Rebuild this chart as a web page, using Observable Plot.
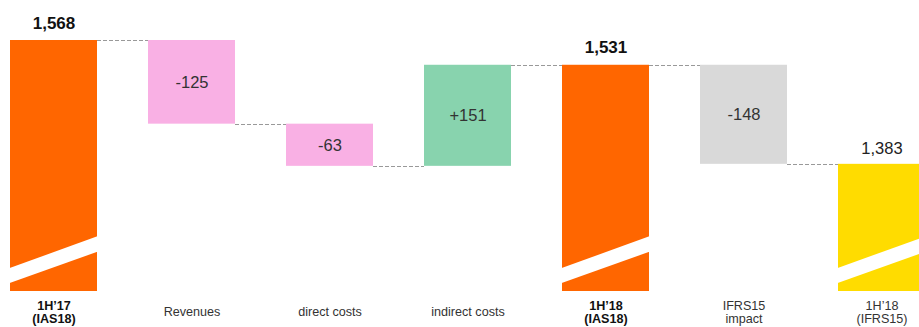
<!DOCTYPE html>
<html><head><meta charset="utf-8">
<script src="https://cdn.jsdelivr.net/npm/d3@7"></script>
<script src="https://cdn.jsdelivr.net/npm/@observablehq/plot@0.6"></script>
<style>html,body{margin:0;padding:0;background:#fff;overflow:hidden}</style>
</head><body><div id="chart"></div>
<script>
// ---- data ----
const categories = ["1H\u201917\n(IAS18)", "Revenues", "direct costs", "indirect costs", "1H\u201918\n(IAS18)", "IFRS15\nimpact", "1H\u201918\n(IFRS15)"];
const values = [1568, -125, -63, 151, 1531, -148, 1383];
const kinds = ["total", "delta", "delta", "delta", "total", "delta", "total"];
const valueLabels = ["1,568", "-125", "-63", "+151", "1,531", "-148", "1,383"];
const boldCategory = [true, false, false, false, true, false, false];
const boldValue = [true, false, false, false, true, false, false];
const colors = ["#FF6600", "#F9B0E4", "#F9B0E4", "#88D3AE", "#FF6600", "#D9D9D9", "#FFDC00"];
const axisBase = 1193;           // broken-axis baseline
const breakLeft = [1204.5, 1227]; // break band at bar's left edge
const breakRight = [1252, 1275];  // break band at bar's right edge

// ---- waterfall ----
let running = 0;
const rows = categories.map((c, i) => {
  let y1, y2;
  if (kinds[i] === "total") { y1 = axisBase; y2 = values[i]; }
  else { y1 = running; y2 = running + values[i]; }
  running = y2;
  return {cat: c, y1, y2, top: Math.max(y1, y2), mid: (y1 + y2) / 2, kind: kinds[i],
          label: valueLabels[i], bold: boldCategory[i], vbold: boldValue[i], color: colors[i], end: y2};
});
const totals = rows.filter(d => d.kind === "total");
const deltas = rows.filter(d => d.kind === "delta");
const font = "'Liberation Sans', Arial, Helvetica, sans-serif";

const chart = Plot.plot({
  width: 919, height: 327,
  marginTop: 40, marginBottom: 36, marginLeft: 0, marginRight: 0,
  style: {fontFamily: font, background: "#fff", color: "#222"},
  x: {domain: categories, range: [10, 927], paddingInner: 0.371, paddingOuter: 0, align: 0, axis: null},
  y: {domain: [axisBase, d3.max(rows, d => d.top)], axis: null},
  color: {type: "identity"},
  marks: [
    Plot.barY(rows, {x: "cat", y1: "y1", y2: "y2", fill: d => d.color}),
    Plot.text(totals.filter(d => d.vbold), {x: "cat", y: "top", text: "label", dy: -12, lineAnchor: "bottom", fontSize: 17, fontWeight: "bold", fill: "#111"}),
    Plot.text(totals.filter(d => !d.vbold), {x: "cat", y: "top", text: "label", dy: -10, lineAnchor: "bottom", fontSize: 16.5, fill: "#222"}),
    Plot.text(deltas, {x: "cat", y: "mid", text: "label", lineAnchor: "middle", fontSize: 16.5, fill: "#333"}),
    Plot.text(rows.filter(d => d.bold), {x: "cat", text: "cat", frameAnchor: "bottom", dy: 20.5, lineAnchor: "middle", lineHeight: 1.05, fontSize: 12.6, fontWeight: "bold", fill: "#111"}),
    Plot.text(rows.filter(d => !d.bold), {x: "cat", text: "cat", frameAnchor: "bottom", dy: 20.5, lineAnchor: "middle", lineHeight: 1.05, fontSize: 12.6, fill: "#333"})
  ]
});
document.getElementById("chart").appendChild(chart);

// connectors and axis-break bands, positioned through Plot's scales
const sx = chart.scale("x"), sy = chart.scale("y");
const bw = sx.bandwidth;
const svg = d3.select(chart);
const gb = svg.append("g").attr("fill", "#fff");
totals.forEach(d => {
  const x0 = sx.apply(d.cat), x1 = x0 + bw;
  gb.append("polygon").attr("points", [
    [x0 - 1, sy.apply(breakLeft[0])], [x1 + 1, sy.apply(breakRight[0])],
    [x1 + 1, sy.apply(breakRight[1])], [x0 - 1, sy.apply(breakLeft[1])]
  ].map(p => p.join(",")).join(" "));
});
const gc = svg.append("g").attr("stroke", "#999").attr("stroke-width", 1).attr("stroke-dasharray", "4,2");
for (let i = 0; i < rows.length - 1; i++) {
  const yv = Math.round(sy.apply(rows[i].end)) + 0.5;
  gc.append("line")
    .attr("x1", sx.apply(rows[i].cat) + bw).attr("x2", sx.apply(rows[i + 1].cat))
    .attr("y1", yv).attr("y2", yv);
}
</script>
</body></html>
